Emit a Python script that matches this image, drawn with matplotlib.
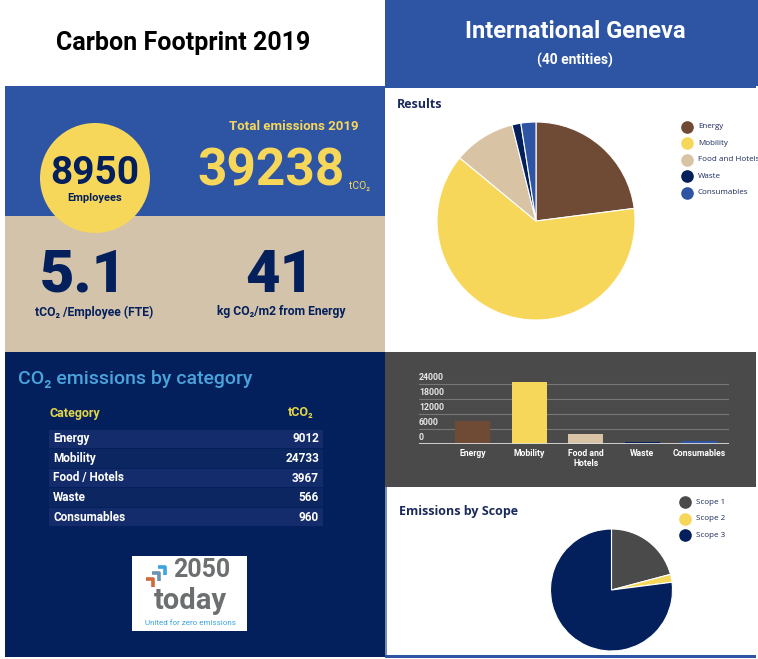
import matplotlib
matplotlib.use("Agg")
import matplotlib.pyplot as plt
from matplotlib.patches import Rectangle, Circle

plt.rcParams["font.family"] = ["Roboto", "DejaVu Sans"]

# data
categories = ["Energy", "Mobility", "Food / Hotels", "Waste", "Consumables"]
pie_labels = ["Energy", "Mobility", "Food and Hotels", "Waste", "Consumables"]
bar_labels = ["Energy", "Mobility", "Food and\nHotels", "Waste", "Consumables"]
emissions = [9012, 24733, 3967, 566, 960]
bar_ticks = [0, 6000, 12000, 18000, 24000]
scope_labels = ["Scope 1", "Scope 2", "Scope 3"]
scope_values = [8190, 822, 30226]
employees = 8950
total = 39238
per_employee = 5.1
per_m2 = 41

BLUE = "#2E54A4"
NAVY = "#03205C"
YELLOW = "#F7D75A"
BEIGE = "#D4C3AB"
BROWN = "#6F4A35"
GRAY = "#4A4A4A"
cat_colors = [BROWN, YELLOW, "#D9C3A5", NAVY, BLUE]
scope_colors = [GRAY, YELLOW, NAVY]

W, H = 758, 659
fig = plt.figure(figsize=(W / 100, H / 100), dpi=100)
fig.patch.set_facecolor("white")
bg = fig.add_axes([0, 0, 1, 1])
bg.set_xlim(0, W)
bg.set_ylim(H, 0)
bg.axis("off")


def rect(x0, y0, x1, y1, color, z=0):
    bg.add_patch(Rectangle((x0, y0), x1 - x0, y1 - y0, color=color, lw=0, zorder=z))


def px_axes(x0, y0, x1, y1):
    return fig.add_axes([x0 / W, (H - y1) / H, (x1 - x0) / W, (y1 - y0) / H])


# panels
rect(385, 0, 758, 86, BLUE)
rect(5, 86, 385, 216, BLUE)
rect(5, 216, 385, 352, BEIGE)
rect(5, 352, 385, 657, NAVY)
rect(385, 86, 756, 88, BLUE)
rect(385, 352, 756, 487, GRAY)
rect(385, 487, 387, 657, "#7A8DB8")
rect(385, 655, 756, 658, BLUE)

# header
bg.text(183, 43, "Carbon Footprint 2019", fontsize=18, fontweight="bold",
        ha="center", va="center", color="black")
bg.text(575, 31, "International Geneva", fontsize=17, fontweight="bold",
        ha="center", va="center", color="white")
bg.text(575, 60, "(40 entities)", fontsize=10, fontweight="bold",
        ha="center", va="center", color="white")

# key figures
bg.add_patch(Circle((95, 178), 55, color=YELLOW, lw=0, zorder=2))
bg.text(95, 173, f"{employees}", fontsize=28, fontweight="bold", ha="center",
        va="center", color=NAVY, zorder=3)
bg.text(95, 198, "Employees", fontsize=8, fontweight="bold", ha="center",
        va="center", color=NAVY, zorder=3)
bg.text(294, 126, "Total emissions 2019", fontsize=9.5, fontweight="bold",
        ha="center", va="center", color=YELLOW)
bg.text(271, 172, f"{total}", fontsize=37, fontweight="bold", ha="center",
        va="center", color=YELLOW)
bg.text(349, 186, "tCO₂", fontsize=7.5, ha="left", va="center", color=YELLOW)
bg.text(83, 276, f"{per_employee}", fontsize=43, fontweight="black",
        ha="center", va="center", color=NAVY)
bg.text(94, 312, "tCO₂ /Employee (FTE)", fontsize=8.7, fontweight="bold",
        ha="center", va="center", color=NAVY)
bg.text(280, 276, f"{per_m2}", fontsize=43, fontweight="black",
        ha="center", va="center", color=NAVY)
bg.text(281, 312, "kg CO₂/m2 from Energy", fontsize=8.7, fontweight="bold",
        ha="center", va="center", color=NAVY)

# category table
bg.text(18, 379, "CO₂ emissions by category", fontsize=14, fontweight="medium",
        ha="left", va="center", color="#4BA3DC")
bg.text(49, 413, "Category", fontsize=9, fontweight="bold", ha="left",
        va="center", color="#E3D54A")
bg.text(313, 413, "tCO₂", fontsize=9, fontweight="bold", ha="right",
        va="center", color="#E3D54A")
for i, (name, val) in enumerate(zip(categories, emissions)):
    y0 = 429 + i * 19.6
    rect(49, y0 + 0.5, 323, y0 + 19, "#142C6B" if i % 2 == 0 else "#0C2662", 1)
    bg.text(53, y0 + 9.8, name, fontsize=8.5, fontweight="bold", ha="left",
            va="center", color="white", zorder=2)
    bg.text(319, y0 + 9.8, f"{val}", fontsize=8.5, fontweight="bold", ha="right",
            va="center", color="white", zorder=2)

# logo
rect(132, 556, 247, 631, "white", 1)
bg.plot([146, 153, 153], [579, 579, 587], color="#D2693A", lw=2.6, zorder=2, solid_capstyle="butt")
bg.plot([152, 159, 159], [573, 573, 581], color="#6C93B4", lw=2.6, zorder=2, solid_capstyle="butt")
bg.plot([158, 165, 165], [567, 567, 575], color="#3BA4DC", lw=2.6, zorder=2, solid_capstyle="butt")
bg.text(202, 577, "2050", fontsize=18, fontweight="bold", ha="center",
        va="baseline", color="#6D6E70", zorder=2)
bg.text(190, 609, "today", fontsize=21, fontweight="bold", ha="center",
        va="baseline", color="#6D6E70", zorder=2)
bg.text(190, 623, "United for zero emissions", fontsize=5.8, ha="center",
        va="center", color="#3BA4DC", zorder=2)

# results pie
bg.text(397, 104, "Results", fontsize=9, fontweight="bold", ha="left",
        va="center", color="#1B2A5C", family=["Open Sans", "DejaVu Sans"])
ax1 = px_axes(437, 122, 635, 320)
ax1.pie(emissions, colors=cat_colors, startangle=90, counterclock=False,
        wedgeprops=dict(edgecolor="white", linewidth=0.8))
ax1.set_xlim(-1, 1)
ax1.set_ylim(-1, 1)
for i, lab in enumerate(pie_labels):
    y = 127 + i * 16.4
    bg.scatter([687], [y], s=65, color=cat_colors[i], zorder=3)
    bg.text(698, y, lab, fontsize=5.8, ha="left", va="center", color="#1B2A5C",
            family=["Open Sans", "DejaVu Sans"])

# bar chart
ax2 = px_axes(419, 373.7, 729, 443.7)
ax2.set_facecolor(GRAY)
xs = range(len(emissions))
ax2.bar(xs, emissions, width=0.62, color=cat_colors, zorder=3, clip_on=False)
ax2.set_xlim(-0.945, 4.53)
ax2.set_ylim(0, 28000)
for v in bar_ticks[1:]:
    ax2.axhline(v, color="#777777", lw=0.8, zorder=1)
ax2.axhline(0, color="#DDDDDD", lw=2, zorder=4)
for v in bar_ticks:
    ax2.text(0.0, v + 700, f"{v}", transform=ax2.get_yaxis_transform(),
             fontsize=6.3, fontweight="bold", ha="left", va="bottom", color="#E6E6E6")
ax2.set_yticks([])
ax2.set_xticks(list(xs))
ax2.set_xticklabels(bar_labels, fontsize=6.2, fontweight="bold", color="white",
                    linespacing=1.1)
ax2.tick_params(axis="x", length=0, pad=4)
for s in ax2.spines.values():
    s.set_visible(False)

# scope pie
bg.text(399, 511, "Emissions by Scope", fontsize=9, fontweight="bold", ha="left",
        va="center", color="#1B2A5C", family=["Open Sans", "DejaVu Sans"])
ax3 = px_axes(550.5, 529, 672.5, 651)
ax3.pie(scope_values, colors=scope_colors, startangle=90, counterclock=False,
        wedgeprops=dict(edgecolor="white", linewidth=0.8))
ax3.set_xlim(-1, 1)
ax3.set_ylim(-1, 1)
for i, lab in enumerate(scope_labels):
    y = 502 + i * 16.7
    bg.scatter([685], [y], s=65, color=scope_colors[i], zorder=3)
    bg.text(696, y, lab, fontsize=5.8, ha="left", va="center", color="#1B2A5C",
            family=["Open Sans", "DejaVu Sans"])

fig.savefig("out.png", dpi=100)
